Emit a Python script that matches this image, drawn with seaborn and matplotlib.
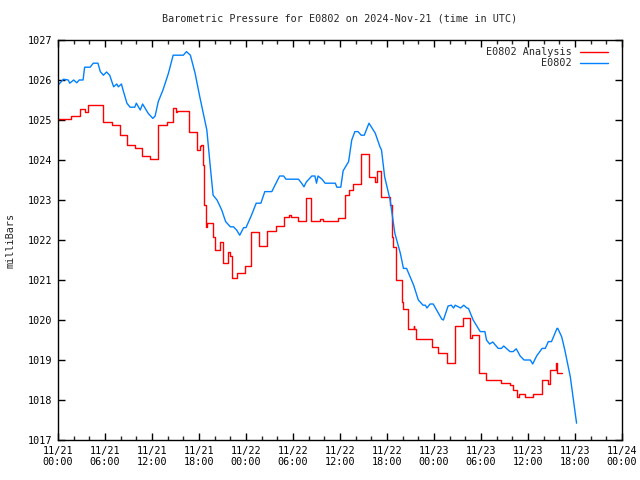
import matplotlib
matplotlib.use("Agg")
import matplotlib.pyplot as plt
import matplotlib.dates as mdates
import seaborn as sns
import pandas as pd
import numpy as np

# ---- data (hours since 2024-11-21 00:00 UTC, pressure in mb) ----
obs_hours = [0.0, 0.7, 1.3, 1.5, 2.0, 2.4, 2.7, 3.2, 3.4, 4.1, 4.5, 5.1, 5.4, 5.8,
             6.2, 6.6, 7.1, 7.5, 7.7, 8.1, 8.3, 8.8, 9.2, 9.8, 10.0, 10.5, 10.8,
             11.5, 12.1, 12.4, 12.8, 13.4, 14.1, 14.7, 16.0, 16.4, 16.9, 17.5,
             18.1, 19.0, 19.4, 19.8, 20.3, 20.9, 21.4, 22.0, 22.4, 22.8, 23.2,
             23.7, 24.0, 24.7, 25.3, 25.9, 26.4, 27.3, 27.7, 28.3, 28.8, 29.1,
             30.7, 31.1, 31.4, 31.7, 32.4, 32.8, 33.0, 33.2, 33.7, 34.1, 35.4,
             35.6, 36.1, 36.4, 37.1, 37.5, 37.9, 38.3, 38.7, 39.1, 39.7, 40.5,
             41.1, 41.3, 41.7, 42.4, 43.0, 43.7, 44.1, 44.5, 45.4, 46.0, 46.6,
             46.9, 47.1, 47.5, 47.9, 49.0, 49.2, 49.8, 50.2, 50.5, 50.7, 51.4,
             51.8, 52.2, 52.4, 53.0, 53.9, 54.5, 54.7, 55.1, 55.5, 56.2, 56.6,
             56.9, 57.7, 58.1, 58.5, 59.0, 59.5, 60.3, 60.6, 61.1, 61.8, 62.2,
             62.6, 63.0, 63.7, 63.8, 64.3, 64.7, 65.4, 65.8, 66.2]
obs_values = [1025.87, 1026.02, 1026.0, 1025.92, 1026.0, 1025.93, 1026.0, 1026.0,
              1026.32, 1026.32, 1026.42, 1026.42, 1026.21, 1026.12, 1026.2, 1026.12,
              1025.83, 1025.9, 1025.83, 1025.9, 1025.75, 1025.42, 1025.32, 1025.32,
              1025.42, 1025.25, 1025.4, 1025.17, 1025.04, 1025.1, 1025.46, 1025.75,
              1026.17, 1026.62, 1026.62, 1026.71, 1026.62, 1026.17, 1025.58, 1024.75,
              1023.92, 1023.12, 1023.0, 1022.75, 1022.46, 1022.33, 1022.33, 1022.25,
              1022.12, 1022.31, 1022.31, 1022.62, 1022.92, 1022.92, 1023.21, 1023.21,
              1023.37, 1023.6, 1023.6, 1023.52, 1023.52, 1023.42, 1023.33, 1023.45,
              1023.6, 1023.6, 1023.42, 1023.6, 1023.52, 1023.42, 1023.42, 1023.32,
              1023.32, 1023.73, 1023.96, 1024.5, 1024.71, 1024.71, 1024.62, 1024.62,
              1024.92, 1024.67, 1024.33, 1024.25, 1023.58, 1023.0, 1022.17, 1021.67,
              1021.29, 1021.29, 1020.87, 1020.5, 1020.37, 1020.37, 1020.3, 1020.4,
              1020.4, 1020.02, 1020.0, 1020.35, 1020.37, 1020.3, 1020.37, 1020.3,
              1020.37, 1020.3, 1020.29, 1020.0, 1019.71, 1019.71, 1019.5, 1019.4,
              1019.45, 1019.29, 1019.29, 1019.35, 1019.21, 1019.21, 1019.28, 1019.1,
              1019.0, 1019.0, 1018.9, 1019.1, 1019.29, 1019.29, 1019.46, 1019.46,
              1019.79, 1019.79, 1019.58, 1019.25, 1018.58, 1018.0, 1017.42]

ana_hours = [0.0, 1.7, 2.8, 3.4, 3.8, 5.8, 6.9, 7.9, 8.8, 9.8, 10.7, 11.7, 12.8,
             13.9, 14.7, 15.0, 15.2, 16.7, 17.8, 18.1, 18.3, 18.5, 18.7, 18.9,
             19.0, 19.8, 20.0, 20.7, 21.1, 21.7, 21.9, 22.2, 22.8, 23.9, 24.7,
             25.7, 26.7, 27.8, 28.8, 29.5, 29.8, 30.7, 31.7, 32.3, 33.5, 33.8,
             35.8, 36.6, 37.1, 37.7, 38.7, 39.7, 40.5, 40.7, 41.2, 42.4, 42.6,
             42.8, 43.1, 43.2, 43.9, 44.0, 44.7, 45.4, 45.5, 45.7, 47.8, 48.5,
             49.6, 50.7, 51.7, 52.6, 52.8, 53.7, 54.7, 56.6, 57.7, 58.1, 58.6,
             58.9, 59.6, 60.7, 61.8, 62.5, 62.8, 63.6, 63.7, 64.4]
ana_values = [1025.02, 1025.1, 1025.27, 1025.2, 1025.37, 1024.96, 1024.87, 1024.62,
              1024.37, 1024.29, 1024.1, 1024.02, 1024.87, 1024.94, 1025.29, 1025.2,
              1025.22, 1024.69, 1024.25, 1024.35, 1024.37, 1023.87, 1022.87, 1022.33,
              1022.43, 1022.08, 1021.75, 1021.96, 1021.42, 1021.71, 1021.6, 1021.04,
              1021.18, 1021.36, 1022.21, 1021.86, 1022.22, 1022.36, 1022.57, 1022.62,
              1022.57, 1022.47, 1023.04, 1022.47, 1022.52, 1022.47, 1022.56, 1023.12,
              1023.25, 1023.39, 1024.14, 1023.57, 1023.45, 1023.73, 1023.07, 1022.87,
              1022.08, 1021.83, 1021.17, 1021.0, 1020.46, 1020.27, 1019.77, 1019.85,
              1019.77, 1019.52, 1019.33, 1019.18, 1018.92, 1019.85, 1020.04, 1019.54,
              1019.62, 1018.67, 1018.5, 1018.42, 1018.37, 1018.25, 1018.08, 1018.15,
              1018.07, 1018.14, 1018.5, 1018.4, 1018.75, 1018.93, 1018.67, 1018.67]

series_labels = ["E0802 Analysis", "E0802"]
title_text = "Barometric Pressure for E0802 on 2024-Nov-21 (time in UTC)"
y_label = "milliBars"

# ---- build frames ----
t0 = pd.Timestamp("2024-11-21 00:00")
obs_df = pd.DataFrame({"time": t0 + pd.to_timedelta(obs_hours, unit="h"),
                       "pressure": obs_values})
ana_df = pd.DataFrame({"time": t0 + pd.to_timedelta(ana_hours, unit="h"),
                       "pressure": ana_values})

sns.set_style("ticks")
plt.rcParams["font.family"] = ["DejaVu Sans Mono"]
FS = 7.3

fig = plt.figure(figsize=(6.4, 4.8), dpi=100)
ax = fig.add_axes([58 / 640, 1 - 440 / 480, 564 / 640, 400 / 480])

sns.lineplot(data=ana_df, x="time", y="pressure", ax=ax, color="#ff0000",
             linewidth=1.0, drawstyle="steps-post", label=series_labels[0])
sns.lineplot(data=obs_df, x="time", y="pressure", ax=ax, color="#0080ff",
             linewidth=1.0, label=series_labels[1])

ax.set_xlim(t0, t0 + pd.Timedelta(hours=72))
ax.set_ylim(1017, 1027)
ax.set_yticks(np.arange(1017, 1028, 1))
ax.xaxis.set_major_locator(mdates.HourLocator(byhour=[0, 6, 12, 18]))
ax.xaxis.set_minor_locator(mdates.HourLocator(byhour=range(0, 24, 2)))
ax.xaxis.set_major_formatter(mdates.DateFormatter("%m/%d\n%H:%M"))

for s in ax.spines.values():
    s.set_visible(True)
    s.set_linewidth(1.0)
    s.set_color("black")

ax.tick_params(axis="both", which="major", direction="in", length=5, width=1,
               top=True, right=True, labelsize=FS, pad=4, colors="black")
ax.tick_params(axis="x", which="minor", direction="in", length=3, width=1,
               top=True, bottom=True)
ax.tick_params(axis="y", which="minor", left=False, right=False)

ax.set_xlabel("")
ax.set_ylabel(y_label, fontsize=FS, labelpad=9)
ax.set_title(title_text, fontsize=FS, pad=13)

leg = ax.legend(loc="upper right", bbox_to_anchor=(1 - 7 / 564, 1.0),
                frameon=False, markerfirst=False, fontsize=FS,
                handlelength=2.8, handletextpad=0.8, labelspacing=0.1,
                borderaxespad=0.3)

fig.savefig("out.png", dpi=100)
